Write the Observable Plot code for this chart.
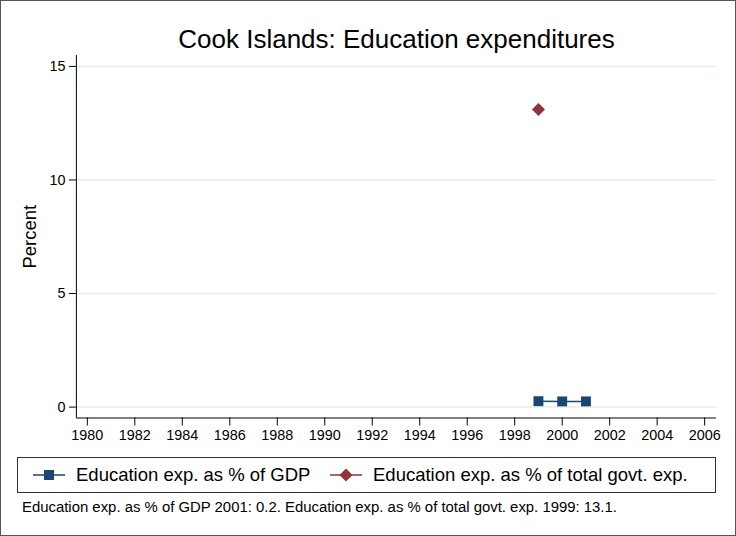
<!DOCTYPE html>
<html><head><meta charset="utf-8">
<script src="https://cdn.jsdelivr.net/npm/d3@7"></script>
<script src="https://cdn.jsdelivr.net/npm/@observablehq/plot@0.6"></script>
<style>
html,body{margin:0;padding:0;background:#fff;}
body{font-family:"Liberation Sans",Arial,Helvetica,sans-serif;color:#000;}
#wrap{position:relative;width:736px;height:536px;box-sizing:border-box;border:1px solid #555;background:#fff;overflow:hidden}
#title{position:absolute;top:25px;left:75px;width:641px;text-align:center;font-size:26px;line-height:1;white-space:nowrap}
#chart{position:absolute;top:49px;left:-1px}
#legend{position:absolute;left:16px;top:456px;width:699px;height:36px;box-sizing:border-box;border:1px solid #333;font-size:18.5px;white-space:nowrap}
.item{position:absolute;top:0;height:34px;display:flex;align-items:center;}
.item svg{margin-right:11px}
#caption{position:absolute;left:21px;top:499px;font-size:14.9px;line-height:1;white-space:nowrap}
</style>
</head><body>
<div id="wrap">
  <div id="title"></div>
  <div id="chart"></div>
  <div id="legend"></div>
  <div id="caption"></div>
</div>
<script>
const titleText = "Cook Islands: Education expenditures";
const yLabel = "Percent";
const captionText = "Education exp. as % of GDP 2001: 0.2. Education exp. as % of total govt. exp. 1999: 13.1.";

const gdpYears = [1999, 2000, 2001];
const gdpValues = [0.26, 0.25, 0.25];
const govYears = [1999];
const govValues = [13.1];

const seriesNames = ["Education exp. as % of GDP", "Education exp. as % of total govt. exp."];
const seriesColors = ["#1a476f", "#90353b"];
const seriesSymbols = ["square", "diamond2"];

const xTicks = [1980,1982,1984,1986,1988,1990,1992,1994,1996,1998,2000,2002,2004,2006];
const yTicks = [0, 5, 10, 15];
const xDomain = [1979.54, 2006.5];
const yDomain = [-0.48, 15.48];

document.getElementById("title").textContent = titleText;
document.getElementById("caption").textContent = captionText;

const gdp = gdpYears.map((y, i) => ({year: y, value: gdpValues[i]}));
const gov = govYears.map((y, i) => ({year: y, value: govValues[i]}));

const plot = Plot.plot({
  width: 736,
  height: 400,
  marginTop: 5,
  marginBottom: 32,
  marginLeft: 76,
  marginRight: 19,
  style: {fontFamily: "'Liberation Sans', Arial, sans-serif", fontSize: "14.4px", color: "#000", background: "transparent"},
  x: {domain: xDomain, label: null},
  y: {domain: yDomain, label: null},
  marks: [
    Plot.gridY(yTicks, {stroke: "#e6eef0", strokeOpacity: 1, strokeWidth: 1.5}),
    Plot.axisX({ticks: xTicks, tickFormat: d => String(d), tickSize: 8, tickPadding: 4, label: null}),
    Plot.axisY({ticks: yTicks, tickSize: 7, tickPadding: 4, label: null}),
    Plot.ruleX([xDomain[0]], {stroke: "#000"}),
    Plot.ruleY([yDomain[0]], {stroke: "#000"}),
    Plot.text([yLabel], {frameAnchor: "left", textAnchor: "middle", lineAnchor: "middle", dx: -46, rotate: -90, fontSize: 18.5}),
    Plot.line(gdp, {x: "year", y: "value", stroke: seriesColors[0], strokeWidth: 1.5}),
    Plot.dot(gdp, {x: "year", y: "value", symbol: seriesSymbols[0], r: 5.6, fill: seriesColors[0], stroke: "none"}),
    Plot.line(gov, {x: "year", y: "value", stroke: seriesColors[1], strokeWidth: 1.5}),
    Plot.dot(gov, {x: "year", y: "value", symbol: seriesSymbols[1], r: 5.9, fill: seriesColors[1], stroke: "none"})
  ]
});
document.getElementById("chart").appendChild(plot);

const legend = document.getElementById("legend");
const itemLefts = [15, 312];
seriesNames.forEach((name, i) => {
  const it = document.createElement("div");
  it.className = "item";
  it.style.left = itemLefts[i] + "px";
  const sym = i === 0
    ? `<rect x="11" y="5" width="10" height="10" fill="${seriesColors[i]}"/>`
    : `<path d="M16,3.5 L22.5,10 L16,16.5 L9.5,10Z" fill="${seriesColors[i]}"/>`;
  it.innerHTML = `<svg width="32" height="20"><line x1="0" y1="10" x2="32" y2="10" stroke="${seriesColors[i]}" stroke-width="1.5"/>${sym}</svg><span>${name}</span>`;
  legend.appendChild(it);
});
</script>
</body></html>
